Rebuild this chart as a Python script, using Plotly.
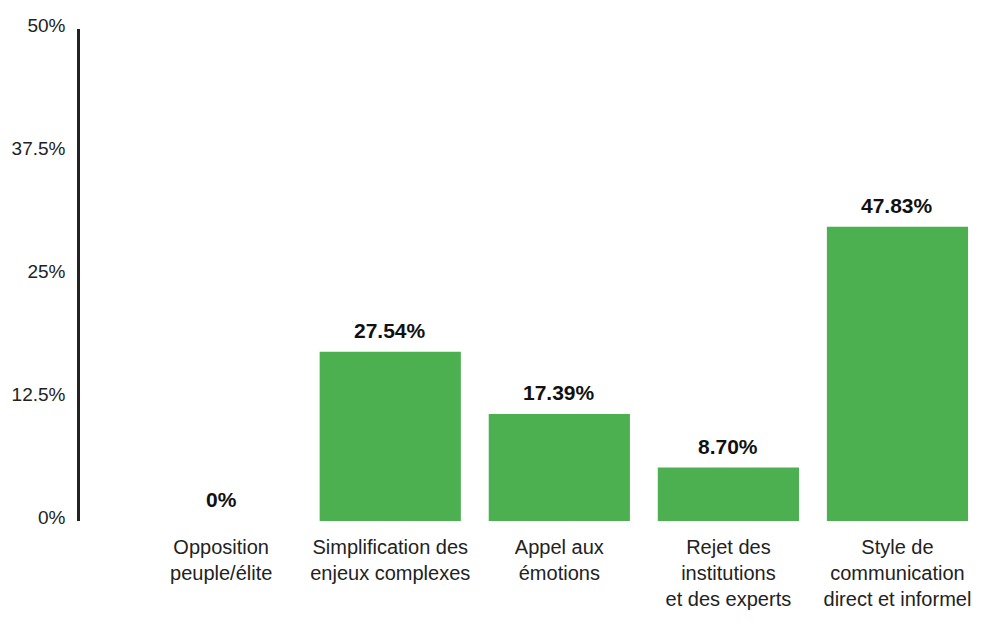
import plotly.graph_objects as go

categories = [
    "Opposition<br>peuple/élite",
    "Simplification des<br>enjeux complexes",
    "Appel aux<br>émotions",
    "Rejet des<br>institutions<br>et des experts",
    "Style de<br>communication<br>direct et informel",
]
values = [0, 27.54, 17.39, 8.70, 47.83]
value_labels = ["0%", "27.54%", "17.39%", "8.70%", "47.83%"]
axis_tick_vals = [0, 12.5, 25, 37.5, 50]
axis_tick_text = ["0%", "12.5%", "25%", "37.5%", "50%"]

FONT = "Liberation Sans, Arial, sans-serif"
GREEN = "#4CAF50"

fig = go.Figure()
# invisible helper trace so the visible percentage axis is drawn
fig.add_trace(go.Scatter(
    x=[categories[0]], y=[0], yaxis="y", mode="markers",
    marker=dict(opacity=0, size=1), hoverinfo="skip", showlegend=False,
))
fig.add_trace(go.Bar(
    x=categories, y=values, yaxis="y2",
    marker=dict(color=GREEN, line=dict(width=0)),
    hoverinfo="x+y",
))

annotations = []
for c, v, t in zip(categories, values, value_labels):
    annotations.append(dict(
        x=c, y=v, xref="x", yref="y2", text="<b>" + t + "</b>",
        showarrow=False, yanchor="bottom", yshift=8,
        font=dict(family=FONT, size=21, color="#111"),
    ))

fig.update_layout(
    width=1000, height=631,
    margin=dict(l=72, r=26, t=21, b=118, autoexpand=False),
    paper_bgcolor="white", plot_bgcolor="white",
    showlegend=False,
    bargap=0.165,
    font=dict(family=FONT, size=19, color="#222"),
    xaxis=dict(
        showgrid=False, zeroline=False, showline=False,
        range=[-0.835, 4.5], ticks="", ticklabelstandoff=12,
        tickfont=dict(family=FONT, size=20, color="#222"),
        automargin=False,
    ),
    yaxis=dict(
        range=[0, 50], tickvals=axis_tick_vals, ticktext=axis_tick_text,
        showgrid=False, zeroline=False, showline=True,
        linecolor="#222", linewidth=2.5, ticks="", ticklabelstandoff=8,
        ticklabelshift=-4,
        tickfont=dict(family=FONT, size=19, color="#222"),
        automargin=False,
    ),
    yaxis2=dict(
        range=[0, 80], overlaying="y", visible=False,
        showgrid=False, zeroline=False,
    ),
    annotations=annotations,
)

fig.write_html("out.html")
